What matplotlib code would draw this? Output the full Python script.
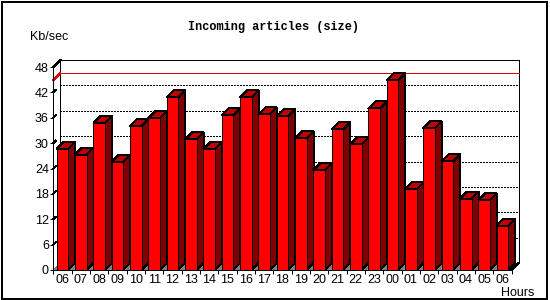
import numpy as np
import matplotlib
matplotlib.use("Agg")
import matplotlib.pyplot as plt
from matplotlib.patches import Polygon, Rectangle

plt.rcParams['patch.antialiased'] = False
plt.rcParams['lines.antialiased'] = False

hours = ['06', '07', '08', '09', '10', '11', '12', '13', '14', '15', '16', '17',
         '18', '19', '20', '21', '22', '23', '00', '01', '02', '03', '04', '05', '06']
kbsec = [28.7, 27.3, 34.7, 25.6, 34.1, 35.9, 40.8, 30.9, 28.6, 36.6, 40.8, 36.8,
         36.3, 31.1, 23.6, 33.3, 29.7, 38.2, 44.9, 19.1, 33.5, 25.7, 16.9, 16.5, 10.5]
yticks = [0, 6, 12, 18, 24, 30, 36, 42, 48]

W, H = 550, 300
px = 0.72  # one pixel in points
fig = plt.figure(figsize=(5.5, 3.0), dpi=100)
ax = fig.add_axes([53.3 / W, 30 / H, 458.3 / W, 203 / H])

n = len(kbsec)
ymax = 48
ax.set_xlim(-0.5, n - 0.5)
ax.set_ylim(0, ymax)

# depth offset of the fake 3d in data units (7 px each way)
dx = 7 / (458.3 / n)
dy = 7 / (203 / ymax)

lw = px
# back wall
ax.add_patch(Polygon([(-0.5 + dx, dy), (n - 0.5 + dx, dy), (n - 0.5 + dx, ymax + dy),
                      (-0.5 + dx, ymax + dy)], closed=True, facecolor='white',
                     edgecolor='black', lw=lw, zorder=0.5, clip_on=False))
for v in yticks[1:-1]:
    ax.plot([-0.5 + dx, n - 0.5 + dx], [v + dy, v + dy], color='black', lw=lw,
            linestyle=(0, (2, 2)), zorder=1, clip_on=False)
    ax.plot([-0.5, -0.5 + dx * 0.35], [v, v + dy * 0.35], color='black', lw=lw,
            zorder=1, clip_on=False)

# max line
peak = max(kbsec)
ax.plot([-0.5 + dx, n - 0.5 + dx], [peak + dy, peak + dy], color='#e00000', lw=lw,
        zorder=1.2, clip_on=False)
ax.plot([-0.5, -0.5 + dx], [peak, peak + dy], color='#e00000', lw=lw, zorder=1.2,
        clip_on=False)
ax.plot([-0.5, -0.5 + dx], [ymax, ymax + dy], color='black', lw=lw, zorder=1.2,
        clip_on=False)

# floor
ax.add_patch(Polygon([(-0.5, 0), (n - 0.5, 0), (n - 0.5 + dx, dy), (-0.5 + dx, dy)],
                     closed=True, facecolor='#808080', edgecolor='none', zorder=1.5,
                     clip_on=False))
ax.plot([n - 0.5, n - 0.5 + dx], [0, dy], color='black', lw=lw, zorder=1.6, clip_on=False)

# bars
bw = 0.63
x = np.arange(n)
bars = ax.bar(x, kbsec, width=bw, color='#ff0000', edgecolor='black', lw=lw, zorder=3,
              clip_on=False)
for xi, v in zip(x, kbsec):
    x0, x1 = xi - bw / 2, xi + bw / 2
    ax.add_patch(Polygon([(x1, 0), (x1 + dx, dy), (x1 + dx, v + dy), (x1, v)], closed=True,
                         facecolor='#800000', edgecolor='black', lw=lw, zorder=2,
                         clip_on=False))
    ax.add_patch(Polygon([(x0, v), (x1, v), (x1 + dx, v + dy), (x0 + dx, v + dy)],
                         closed=True, facecolor='#c00000', edgecolor='black', lw=lw,
                         zorder=2, clip_on=False))

# axes
for s in ['top', 'right']:
    ax.spines[s].set_visible(False)
for s in ['left', 'bottom']:
    ax.spines[s].set_linewidth(lw)
    ax.spines[s].set_zorder(4)
ax.spines['bottom'].set_bounds(-0.5, n - 0.5)
ax.set_facecolor('none')

ax.set_yticks(yticks)
ax.set_yticklabels([str(v) for v in yticks])
ax.tick_params(axis='y', length=3 * px, width=lw, pad=1, labelsize=9)
ax.set_xticks(x)
ax.set_xticklabels(hours)
ax.set_xticks(np.arange(n + 1) - 0.5, minor=True)
ax.tick_params(axis='x', which='major', length=0, pad=4 * px, labelsize=9)
ax.tick_params(axis='x', which='minor', length=4 * px, width=lw)
for lab in ax.get_xticklabels() + ax.get_yticklabels():
    lab.set_fontfamily('Liberation Sans')

fig.text(274 / W, 1 - 27 / H, 'Incoming articles (size)', ha='center', va='center',
         family='Liberation Mono', weight='bold', fontsize=8.6)
fig.text(30 / W, 1 - 37 / H, 'Kb/sec', ha='left', va='center',
         family='Liberation Sans', fontsize=9)
fig.text(534 / W, 1 - 296 / H, 'Hours', ha='right', va='baseline',
         family='Liberation Sans', fontsize=9)

fig.patches.append(Rectangle((1.5 / W, 1.5 / H), 545 / W, 297 / H, transform=fig.transFigure,
                             fill=False, edgecolor='black', lw=1.5 * px))

fig.savefig('out.png', dpi=100)
